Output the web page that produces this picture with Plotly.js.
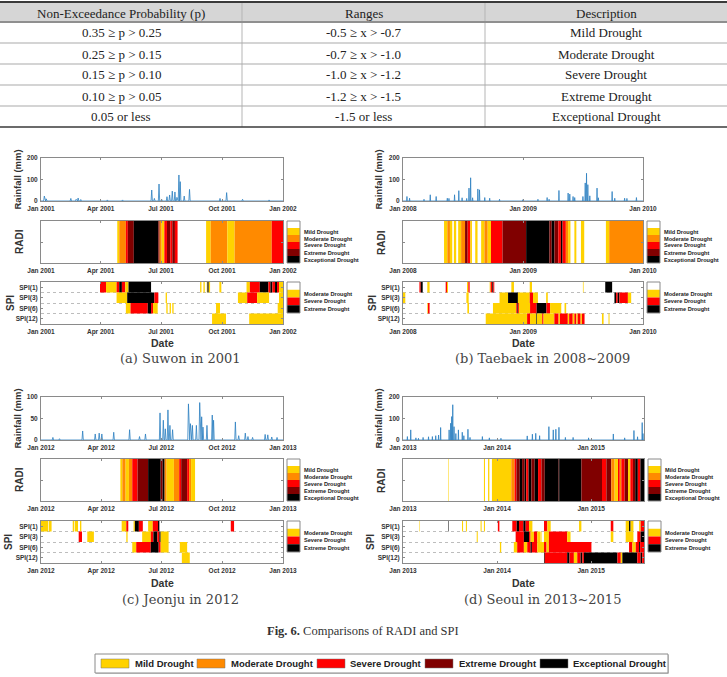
<!DOCTYPE html>
<html><head><meta charset="utf-8">
<script src="https://cdn.plot.ly/plotly-3.0.1.min.js"></script>
<style>html,body{margin:0;padding:0;background:#fff}#chart{width:727px;height:677px}</style>
</head><body><div id="chart"></div>
<script>
// ---------------- DATA ----------------
const tableHeader = ['Non-Exceedance Probability (p)', 'Ranges', 'Description'];
const tableProb = ['0.35 \u2265 p > 0.25', '0.25 \u2265 p > 0.15', '0.15 \u2265 p > 0.10', '0.10 \u2265 p > 0.05', '0.05 or less'];
const tableRange = ['-0.5 \u2265 x > -0.7', '-0.7 \u2265 x > -1.0', '-1.0 \u2265 x > -1.2', '-1.2 \u2265 x > -1.5', '-1.5 or less'];
const tableDesc = ['Mild Drought', 'Moderate Drought', 'Severe Drought', 'Extreme Drought', 'Exceptional Drought'];

const radiLabels = ['Mild Drought', 'Moderate Drought', 'Severe Drought', 'Extreme Drought', 'Exceptional Drought'];
const spiLabels = ['Moderate Drought', 'Severe Drought', 'Extreme Drought'];
const spiRowLabels = ['SPI(1)', 'SPI(3)', 'SPI(6)', 'SPI(12)'];
const panelCaptions = ['(a) Suwon in 2001', '(b) Taebaek in 2008~2009', '(c) Jeonju in 2012', '(d) Seoul in 2013~2015'];
const figCaption = '<b>Fig. 6.</b> Comparisons of RADI and SPI';

// Daily rainfall peaks [date, mm]
const rainA = [['2001-01-06',23],['2001-01-09',10],['2001-02-15',12],['2001-02-23',8],['2001-02-26',14],['2001-03-02',7],['2001-04-11',5],['2001-05-04',5],['2001-06-17',51],['2001-06-21',12],['2001-06-28',79],['2001-07-02',8],['2001-07-10',20],['2001-07-14',28],['2001-07-18',46],['2001-07-22',42],['2001-07-25',17],['2001-07-28',121],['2001-07-30',90],['2001-08-05',23],['2001-08-13',54],['2001-09-28',12],['2001-10-08',39],['2001-11-01',8],['2001-12-11',5]];
const rainB = [['2008-01-13',21],['2008-01-21',13],['2008-03-05',8],['2008-03-24',29],['2008-04-11',21],['2008-05-15',13],['2008-05-20',12],['2008-06-06',29],['2008-06-19',48],['2008-06-29',15],['2008-07-13',12],['2008-07-20',60],['2008-07-25',108],['2008-07-31',15],['2008-08-16',56],['2008-08-21',52],['2008-09-06',16],['2008-09-21',13],['2008-10-21',8],['2008-12-31',6],['2009-02-15',8],['2009-03-15',16],['2009-03-21',8],['2009-04-20',49],['2009-05-18',37],['2009-05-23',32],['2009-06-02',21],['2009-06-07',16],['2009-07-02',21],['2009-07-09',84],['2009-07-13',129],['2009-07-17',76],['2009-07-23',24],['2009-08-14',60],['2009-08-18',15],['2009-09-29',44],['2009-10-07',13],['2009-11-06',13],['2009-11-13',12],['2009-12-12',16]];
const rainC = [['2012-01-19',6],['2012-01-29',3],['2012-03-04',21],['2012-03-23',14],['2012-03-29',16],['2012-04-02',14],['2012-04-20',18],['2012-05-14',24],['2012-05-29',8],['2012-06-07',14],['2012-06-29',63],['2012-07-04',46],['2012-07-07',26],['2012-07-11',70],['2012-07-14',34],['2012-07-18',24],['2012-08-11',84],['2012-08-14',38],['2012-08-17',34],['2012-08-23',34],['2012-08-28',87],['2012-08-31',54],['2012-09-02',30],['2012-09-08',34],['2012-09-16',58],['2012-09-18',46],['2012-10-21',42],['2012-10-26',10],['2012-11-05',16],['2012-11-09',8],['2012-11-16',6],['2012-12-05',13],['2012-12-09',12],['2012-12-15',7],['2012-12-23',6]];
const rainD = [['2013-01-18',16],['2013-01-31',47],['2013-02-20',10],['2013-03-02',8],['2013-03-20',12],['2013-04-10',15],['2013-04-25',16],['2013-05-08',20],['2013-05-19',23],['2013-05-27',58],['2013-06-29',47],['2013-07-05',78],['2013-07-09',109],['2013-07-13',164],['2013-07-18',62],['2013-07-25',30],['2013-08-04',47],['2013-08-19',36],['2013-08-25',20],['2013-09-10',50],['2013-09-18',12],['2013-11-05',16],['2013-12-02',10],['2014-01-16',8],['2014-04-28',19],['2014-05-18',27],['2014-05-31',31],['2014-06-15',20],['2014-07-21',62],['2014-08-07',47],['2014-08-17',50],['2014-08-29',59],['2014-09-23',12],['2014-10-23',12],['2014-12-22',10],['2015-03-28',28],['2015-05-11',10],['2015-06-16',44],['2015-06-30',15],['2015-07-18',81],['2015-07-21',30]];

// RADI class runs [start date, class]: 0 none, 1 mild, 2 moderate, 3 severe, 4 extreme, 5 exceptional
const radiA = [['2001-04-26',1],['2001-04-29',2],['2001-05-09',3],['2001-05-12',4],['2001-05-21',5],['2001-06-27',4],['2001-06-29',2],['2001-07-02',1],['2001-07-06',3],['2001-07-10',4],['2001-07-15',3],['2001-07-18',4],['2001-07-22',3],['2001-07-26',0],['2001-09-07',1],['2001-09-14',2],['2001-10-09',1],['2001-10-20',2],['2001-12-15',3]];
const radiB = [['2008-05-05',1],['2008-05-15',2],['2008-05-23',1],['2008-05-30',0],['2008-06-04',1],['2008-06-11',0],['2008-06-17',1],['2008-06-26',2],['2008-07-08',4],['2008-07-16',3],['2008-07-24',1],['2008-07-29',0],['2008-08-08',1],['2008-08-15',0],['2008-08-26',1],['2008-09-05',2],['2008-09-15',1],['2008-09-25',3],['2008-10-30',4],['2009-01-10',5],['2009-03-22',4],['2009-03-29',5],['2009-04-06',4],['2009-04-18',3],['2009-04-26',5],['2009-05-01',3],['2009-05-11',2],['2009-05-18',1],['2009-05-25',0],['2009-06-06',1],['2009-06-12',0],['2009-06-26',1],['2009-07-06',0],['2009-09-10',1],['2009-09-20',2]];
const radiC = [['2012-04-30',1],['2012-05-03',2],['2012-05-08',1],['2012-05-13',2],['2012-05-18',3],['2012-05-26',4],['2012-06-11',5],['2012-06-30',4],['2012-07-03',5],['2012-07-06',2],['2012-07-09',1],['2012-07-20',2],['2012-07-28',3],['2012-07-31',4],['2012-08-09',3],['2012-08-12',2],['2012-08-15',1],['2012-08-21',0]];
const radiD = [['2013-06-25',1],['2013-06-27',0],['2013-11-11',1],['2013-11-15',0],['2013-11-27',1],['2013-12-02',0],['2013-12-12',1],['2014-02-25',2],['2014-03-10',3],['2014-03-17',4],['2014-03-30',5],['2014-04-08',4],['2014-04-18',5],['2014-04-24',3],['2014-05-03',5],['2014-05-14',4],['2014-05-27',5],['2014-06-09',3],['2014-06-22',4],['2014-07-05',5],['2014-08-28',4],['2014-08-30',5],['2014-11-24',4],['2015-02-12',3],['2015-03-01',4],['2015-03-20',2],['2015-04-02',1],['2015-04-15',3],['2015-04-22',2],['2015-04-28',3],['2015-05-11',4],['2015-05-24',1],['2015-06-02',3],['2015-06-12',4],['2015-06-21',5],['2015-07-01',3],['2015-07-11',5]];

// SPI class runs [start date, class]: 0 none, 1 moderate, 2 severe, 3 extreme
const spi1A = [['2001-03-31',2],['2001-04-09',1],['2001-04-25',2],['2001-04-29',3],['2001-05-03',2],['2001-05-08',1],['2001-05-13',3],['2001-06-16',0],['2001-08-29',1],['2001-08-31',0],['2001-09-03',1],['2001-09-05',0],['2001-09-08',1],['2001-09-09',3],['2001-09-11',1],['2001-09-13',0],['2001-09-27',1],['2001-09-30',0],['2001-11-07',1],['2001-11-12',2],['2001-11-27',3],['2001-12-10',2],['2001-12-13',3],['2001-12-16',2],['2001-12-20',3],['2001-12-23',2],['2001-12-26',1]];
const spi3A = [['2001-04-25',1],['2001-05-11',3],['2001-06-21',2],['2001-06-27',0],['2001-07-08',1],['2001-07-10',0],['2001-10-25',1],['2001-11-08',2],['2001-11-23',1],['2001-12-11',0],['2001-12-26',1]];
const spi6A = [['2001-05-09',1],['2001-05-16',2],['2001-06-11',3],['2001-06-16',2],['2001-06-19',1],['2001-06-26',0],['2001-07-09',1],['2001-07-11',0],['2001-07-14',1],['2001-07-16',0],['2001-07-18',1],['2001-07-20',0],['2001-09-22',1],['2001-09-28',0],['2001-12-24',1]];
const spi12A = [['2001-09-16',1],['2001-10-07',0],['2001-11-11',1]];

const spi1B = [['2008-02-20',2],['2008-02-24',3],['2008-03-01',0],['2008-03-15',1],['2008-03-22',0],['2008-05-10',2],['2008-05-14',1],['2008-05-17',0],['2008-07-14',1],['2008-07-18',2],['2008-07-22',0],['2008-09-21',1],['2008-09-24',2],['2008-09-29',3],['2008-10-02',2],['2008-10-05',0],['2008-11-26',1],['2008-12-04',0],['2009-01-21',1],['2009-01-28',0],['2009-07-02',1],['2009-07-04',0],['2009-09-08',3],['2009-09-29',0]];
const spi3B = [['2008-01-01',1],['2008-01-08',0],['2008-07-12',1],['2008-07-19',0],['2008-10-21',1],['2008-11-16',3],['2008-12-16',1],['2009-01-21',2],['2009-01-31',1],['2009-02-15',0],['2009-03-12',1],['2009-03-17',0],['2009-10-06',3],['2009-10-11',2],['2009-10-16',3],['2009-10-21',2],['2009-11-16',1],['2009-11-26',0]];
const spi6B = [['2008-03-15',1],['2008-03-17',2],['2008-03-22',0],['2008-07-15',1],['2008-07-20',0],['2008-10-01',1],['2008-12-11',2],['2008-12-14',3],['2008-12-16',2],['2008-12-19',1],['2009-01-22',2],['2009-02-11',3],['2009-03-13',2],['2009-03-24',1],['2009-04-27',0],['2009-05-07',1],['2009-05-12',0]];
const spi12B = [['2008-09-09',1],['2009-01-13',2],['2009-01-22',1],['2009-02-10',3],['2009-02-12',1],['2009-02-28',2],['2009-03-04',1],['2009-04-06',2],['2009-04-19',1],['2009-04-23',2],['2009-05-17',1],['2009-05-21',2],['2009-06-01',1],['2009-06-06',2],['2009-06-12',1],['2009-06-16',2],['2009-06-25',1],['2009-06-29',2],['2009-07-07',0],['2009-08-29',1],['2009-09-03',0],['2009-09-18',1],['2009-09-21',0]];

const spi1C = [['2012-01-01',1],['2012-01-12',0],['2012-01-13',1],['2012-01-17',0],['2012-02-18',1],['2012-02-20',0],['2012-02-21',1],['2012-02-26',0],['2012-02-29',1],['2012-03-02',0],['2012-05-02',1],['2012-05-09',2],['2012-05-12',0],['2012-05-20',1],['2012-05-22',3],['2012-05-28',2],['2012-06-03',0],['2012-06-11',1],['2012-06-18',2],['2012-06-26',3],['2012-06-28',0],['2012-10-14',2],['2012-10-19',0]];
const spi3C = [['2012-02-27',2],['2012-03-03',0],['2012-03-11',1],['2012-03-21',0],['2012-05-09',1],['2012-05-11',0],['2012-06-02',1],['2012-06-15',2],['2012-06-19',3],['2012-06-25',2],['2012-06-28',3],['2012-06-30',1],['2012-07-12',0]];
const spi6C = [['2012-05-18',1],['2012-05-24',2],['2012-06-15',3],['2012-06-27',2],['2012-06-30',1],['2012-07-12',0],['2012-07-29',1],['2012-08-09',0]];
const spi12C = [['2012-08-01',1],['2012-08-13',0]];

const spi1D = [['2013-03-06',1],['2013-03-08',0],['2013-06-25',3],['2013-06-27',0],['2013-08-18',1],['2013-08-22',0],['2013-09-02',1],['2013-09-06',0],['2013-10-29',1],['2013-11-02',0],['2013-11-11',1],['2013-11-15',0],['2014-01-04',2],['2014-01-10',0],['2014-03-01',2],['2014-03-18',3],['2014-03-27',2],['2014-04-13',3],['2014-04-22',2],['2014-05-05',1],['2014-05-18',0],['2014-07-02',2],['2014-07-15',1],['2014-07-28',0],['2014-11-15',1],['2014-11-24',0],['2015-03-18',2],['2015-03-28',0],['2015-05-15',1],['2015-05-28',3],['2015-06-03',1],['2015-06-14',0],['2015-07-06',1],['2015-07-12',2]];
const spi3D = [['2013-10-14',1],['2013-10-18',0],['2014-03-14',2],['2014-04-15',3],['2014-05-05',2],['2014-05-11',1],['2014-05-24',2],['2014-06-06',1],['2014-06-19',0],['2014-06-22',1],['2014-06-24',0],['2014-07-02',1],['2014-07-21',2],['2014-09-30',1],['2014-10-13',0],['2015-03-18',1],['2015-03-28',0],['2015-05-15',1],['2015-06-14',0],['2015-06-29',2],['2015-07-12',3]];
const spi6D = [['2014-01-12',1],['2014-01-17',0],['2014-03-07',1],['2014-03-20',2],['2014-04-15',1],['2014-04-28',2],['2014-05-11',3],['2014-05-16',2],['2014-06-06',1],['2014-07-02',2],['2014-07-12',1],['2014-07-21',2],['2015-01-02',0],['2015-05-28',2],['2015-06-10',1],['2015-06-23',2],['2015-07-06',3],['2015-07-10',2]];
const spi12D = [['2014-07-02',3],['2014-07-05',2],['2014-09-30',3],['2014-10-09',2],['2014-10-26',1],['2014-11-08',2],['2014-11-21',3],['2014-11-28',2],['2014-12-04',3],['2015-04-13',2],['2015-04-26',1],['2015-05-02',3],['2015-06-29',2],['2015-07-12',3],['2015-07-18',2]];

// ---------------- STYLE / LAYOUT ----------------
const W = 727, H = 677;
const fx = x => x / W;
const fy = y => 1 - y / H;
const id = n => (n === 1 ? '' : String(n));
const iso = t => new Date(t).toISOString().slice(0, 10);

const C_Y = '#FFD200', C_O = '#FF8A00', C_R = '#FF0000', C_DR = '#800000', C_K = '#000000';
const radiColors = ['#FFFFFF', C_Y, C_O, C_R, C_DR, C_K];
const spiColors = ['#FFFFFF', C_Y, C_R, C_K];

const panels = [
  {rain: rainA, radi: radiA, spi: [spi1A, spi3A, spi6A, spi12A], start: '2001-01-01', end: '2002-01-01', dtick: 'M3', ymax: 200, ydt: 100,
   x0: 41, x1: 283, yR: [158, 201], yA: [221, 263], yS: [282, 324], labX: 17, radiX: 19, spiX: 10, dateY: 343, capX: 180, capY: 358},
  {rain: rainB, radi: radiB, spi: [spi1B, spi3B, spi6B, spi12B], start: '2008-01-01', end: '2010-01-01', dtick: 'M12', ymax: 200, ydt: 100,
   x0: 403, x1: 643, yR: [158, 201], yA: [221, 263], yS: [282, 324], labX: 378, radiX: 381, spiX: 372, dateY: 343, capX: 542, capY: 358},
  {rain: rainC, radi: radiC, spi: [spi1C, spi3C, spi6C, spi12C], start: '2012-01-01', end: '2013-01-01', dtick: 'M3', ymax: 100, ydt: 50,
   x0: 41, x1: 283, yR: [397, 440], yA: [459, 501], yS: [521, 563], labX: 17, radiX: 19, spiX: 8, dateY: 583, capX: 180, capY: 599},
  {rain: rainD, radi: radiD, spi: [spi1D, spi3D, spi6D, spi12D], start: '2013-01-01', end: '2015-07-25', dtick: 'M12', ymax: 200, ydt: 100,
   x0: 403, x1: 644, yR: [397, 440], yA: [459, 501], yS: [521, 563], labX: 378, radiX: 381, spiX: 370, dateY: 583, capX: 542, capY: 599}
];

const SANS = 'Liberation Sans, Arial, sans-serif';
const SERIF = 'Liberation Serif, Times New Roman, serif';
const tickFont = {family: SANS, size: 6.5, color: '#333', weight: 'bold'};
const axBase = {showline: true, mirror: 'ticks', linecolor: '#8a8a8a', linewidth: 1, ticks: 'inside', ticklen: 2,
  tickcolor: '#8a8a8a', showgrid: false, zeroline: false, tickfont: tickFont, fixedrange: true, ticklabelstandoff: 1};

const traces = [];
const layout = {width: W, height: H, margin: {l: 0, r: 0, t: 0, b: 0}, paper_bgcolor: '#fff', plot_bgcolor: 'rgba(0,0,0,0)',
  showlegend: false, barmode: 'overlay', hovermode: false, shapes: [], annotations: []};

function pline(x0, y0, x1, y1, color, width) {
  layout.shapes.push({type: 'line', xref: 'paper', yref: 'paper', x0: fx(x0), x1: fx(x1), y0: fy(y0), y1: fy(y1), line: {color: color, width: width}});
}
function ptext(x, y, text, font, xanchor, angle) {
  layout.annotations.push({xref: 'paper', yref: 'paper', x: fx(x), y: fy(y), text: text, showarrow: false, textangle: angle || 0,
    xanchor: xanchor || 'center', yanchor: 'middle', font: font});
}

// ---- Table (drawn with shapes + text) ----
const colX = [0, 242, 485, 727];
const rowY = [2, 22, 43, 64, 85, 106, 127];
layout.shapes.push({type: 'rect', xref: 'paper', yref: 'paper', x0: 0, x1: 1, y0: fy(rowY[1]), y1: fy(rowY[0]), fillcolor: '#d6d6d6', line: {width: 0}});
[colX[1], colX[2]].forEach(x => pline(x, rowY[0], x, rowY[6], '#b5b5b5', 1));
pline(0, rowY[0], W, rowY[0], '#3a3a3a', 2);
pline(0, rowY[1], W, rowY[1], '#8f8f8f', 2);
for (let r = 2; r < 6; r++) pline(0, rowY[r], W, rowY[r], '#a9a9a9', 1.2);
pline(0, rowY[6], W, rowY[6], '#3a3a3a', 1.5);
const tFont = {family: SERIF, size: 13, color: '#222'};
tableHeader.forEach((h, c) => ptext((colX[c] + colX[c + 1]) / 2, (rowY[0] + rowY[1]) / 2 + 1, h, tFont));
[tableProb, tableRange, tableDesc].forEach((col, c) => col.forEach((t, r) =>
  ptext((colX[c] + colX[c + 1]) / 2, (rowY[r + 1] + rowY[r + 2]) / 2 + 0.5, t, tFont)));

function runBars(runs, end, y, colors, xa, ya) {
  const base = [], len = [], col = [], yy = [], wd = [];
  runs.forEach((r, i) => {
    if (!r[1]) return;
    const e = i + 1 < runs.length ? runs[i + 1][0] : end;
    base.push(r[0]); len.push(Date.parse(e) - Date.parse(r[0])); col.push(colors[r[1]]); yy.push(y); wd.push(1);
  });
  return {type: 'bar', orientation: 'h', base: base, x: len, y: yy, width: wd, marker: {color: col, line: {width: 0}},
    xaxis: xa, yaxis: ya, hoverinfo: 'skip', showlegend: false};
}

const cbFont = {family: SANS, size: 5.6, color: '#222', weight: 'bold'};
function cbar(x0, x1, top, bh, colors, labels) {
  colors.forEach((c, k) => layout.shapes.push({type: 'rect', xref: 'paper', yref: 'paper', x0: fx(x0), x1: fx(x1),
    y0: fy(top + k * bh), y1: fy(top + (k + 1) * bh), fillcolor: c, line: {width: 0}}));
  layout.shapes.push({type: 'rect', xref: 'paper', yref: 'paper', x0: fx(x0), x1: fx(x1), y0: fy(top), y1: fy(top + colors.length * bh),
    line: {color: '#8a8a8a', width: 1}});
  labels.forEach((t, k) => ptext(x1 + 2, top + (k + 1.5) * bh, t, cbFont, 'left'));
}

const titleFont = s => ({family: SANS, size: s, color: '#333', weight: 'bold'});

panels.forEach((p, i) => {
  const nR = i * 3 + 1, nA = i * 3 + 2, nS = i * 3 + 3;
  const xdom = [fx(p.x0), fx(p.x1)];
  const xCommon = Object.assign({}, axBase, {domain: xdom, type: 'date', range: [p.start, p.end], tickformat: '%b %Y', dtick: p.dtick, tick0: p.start});
  layout['xaxis' + id(nR)] = Object.assign({}, xCommon, {anchor: 'y' + id(nR)});
  layout['xaxis' + id(nA)] = Object.assign({}, xCommon, {anchor: 'y' + id(nA)});
  layout['xaxis' + id(nS)] = Object.assign({}, xCommon, {anchor: 'y' + id(nS)});
  layout['yaxis' + id(nR)] = Object.assign({}, axBase, {domain: [fy(p.yR[1]), fy(p.yR[0])], anchor: 'x' + id(nR), range: [0, p.ymax], dtick: p.ydt, tick0: 0});
  layout['yaxis' + id(nA)] = Object.assign({}, axBase, {domain: [fy(p.yA[1]), fy(p.yA[0])], anchor: 'x' + id(nA), range: [-0.5, 0.5], tickvals: [0], showticklabels: false});
  layout['yaxis' + id(nS)] = Object.assign({}, axBase, {domain: [fy(p.yS[1]), fy(p.yS[0])], anchor: 'x' + id(nS), range: [4.5, 0.5],
    tickvals: [1, 2, 3, 4], ticktext: spiRowLabels,
    minor: {tickvals: [1.5, 2.5, 3.5], showgrid: true, gridcolor: '#bdbdbd', griddash: 'dot', gridwidth: 1, ticks: ''}});

  // rainfall line: each rain day rises from the dry days around it
  const rx = [p.start], ry = [0];
  p.rain.forEach(([d, v]) => { const t = Date.parse(d); rx.push(iso(t - 864e5), d, iso(t + 864e5)); ry.push(0, v, 0); });
  rx.push(p.end); ry.push(0);
  traces.push({type: 'scatter', mode: 'lines', x: rx, y: ry, line: {color: '#2b7fc0', width: 0.8}, xaxis: 'x' + id(nR), yaxis: 'y' + id(nR), hoverinfo: 'skip'});

  traces.push(runBars(p.radi, p.end, 0, radiColors, 'x' + id(nA), 'y' + id(nA)));
  p.spi.forEach((row, k) => traces.push(runBars(row, p.end, k + 1, spiColors, 'x' + id(nS), 'y' + id(nS))));

  cbar(p.x1 + 4, p.x1 + 17, p.yA[0], (p.yA[1] - p.yA[0]) / 6, radiColors, radiLabels);
  cbar(p.x1 + 4, p.x1 + 17, p.yS[0], 7.75, spiColors, spiLabels);

  ptext(p.labX, (p.yR[0] + p.yR[1]) / 2, 'Rainfall (mm)', titleFont(9.5), 'center', -90);
  ptext(p.radiX, (p.yA[0] + p.yA[1]) / 2, 'RADI', titleFont(10), 'center', -90);
  ptext(p.spiX, (p.yS[0] + p.yS[1]) / 2, 'SPI', titleFont(10), 'center', -90);
  ptext((p.x0 + p.x1) / 2, p.dateY, 'Date', titleFont(10.5));
  ptext(p.capX, p.capY, panelCaptions[i], {family: 'DejaVu Serif, serif', size: 13, color: '#444'});
});

// figure caption
ptext(363, 631, figCaption, {family: SERIF, size: 12.5, color: '#333'});

// bottom legend
layout.shapes.push({type: 'rect', xref: 'paper', yref: 'paper', x0: fx(96), x1: fx(669), y0: fy(674), y1: fy(655), fillcolor: '#cfcfcf', line: {width: 0}});
layout.shapes.push({type: 'rect', xref: 'paper', yref: 'paper', x0: fx(95), x1: fx(668), y0: fy(673), y1: fy(654), fillcolor: '#fff', line: {color: '#8a8a8a', width: 1}});
const legendPos = [[101, 133], [197, 229], [317, 348], [425, 457], [540, 571]];
radiLabels.forEach((t, k) => {
  layout.shapes.push({type: 'rect', xref: 'paper', yref: 'paper', x0: fx(legendPos[k][0]), x1: fx(legendPos[k][0] + 28), y0: fy(668), y1: fy(659),
    fillcolor: radiColors[k + 1], line: {color: '#777', width: 0.5}});
  ptext(legendPos[k][1], 663.5, t, {family: SANS, size: 9.5, color: '#222', weight: 'bold'}, 'left');
});

Plotly.newPlot('chart', traces, layout, {staticPlot: true, displayModeBar: false});
</script></body></html>
